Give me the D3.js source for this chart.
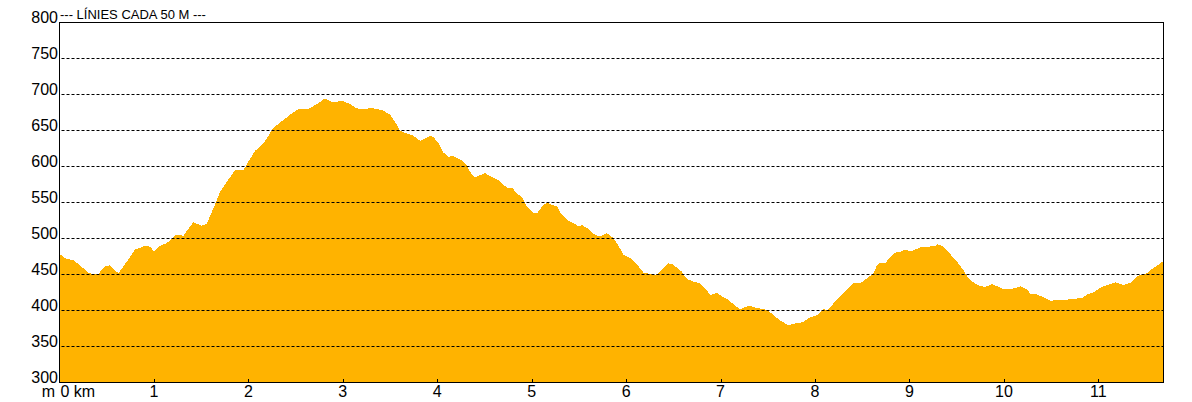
<!DOCTYPE html>
<html>
<head>
<meta charset="utf-8">
<script src="https://cdn.jsdelivr.net/npm/d3@7"></script>
<style>
  html, body { margin: 0; padding: 0; background: #fff; }
  svg { display: block; }
  text { font-family: Arial, "Liberation Sans", sans-serif; fill: #000; }
</style>
</head>
<body>
<svg width="1192" height="402"></svg>
<script>
// distance along the route (km)
var dist = [0, 0.058, 0.146, 0.217, 0.305, 0.411, 0.482, 0.535, 0.623, 0.712, 0.800, 0.906, 0.959, 1.001,
  1.064, 1.136, 1.242, 1.311, 1.417, 1.506, 1.559, 1.629, 1.700, 1.771, 1.859, 1.947, 2.018, 2.071,
  2.159, 2.265, 2.371, 2.460, 2.530, 2.636, 2.725, 2.812, 2.883, 3.006, 3.077, 3.148, 3.254, 3.289,
  3.430, 3.501, 3.572, 3.607, 3.678, 3.748, 3.819, 3.872, 3.925, 3.960, 4.013, 4.066, 4.119, 4.172,
  4.243, 4.296, 4.349, 4.392, 4.455, 4.507, 4.560, 4.648, 4.701, 4.754, 4.790, 4.843, 4.896, 4.949,
  5.019, 5.055, 5.108, 5.161, 5.214, 5.267, 5.320, 5.390, 5.443, 5.496, 5.532, 5.585, 5.655, 5.726,
  5.797, 5.867, 5.919, 5.972, 6.043, 6.114, 6.184, 6.255, 6.308, 6.379, 6.449, 6.485, 6.538, 6.591,
  6.644, 6.714, 6.785, 6.838, 6.891, 6.962, 7.015, 7.085, 7.156, 7.209, 7.297, 7.350, 7.421, 7.492,
  7.561, 7.633, 7.720, 7.773, 7.845, 7.879, 7.950, 8.021, 8.091, 8.127, 8.197, 8.268, 8.339, 8.409,
  8.480, 8.551, 8.621, 8.657, 8.692, 8.745, 8.798, 8.851, 8.904, 8.957, 9.010, 9.045, 9.116, 9.187,
  9.274, 9.292, 9.362, 9.434, 9.504, 9.574, 9.627, 9.680, 9.751, 9.804, 9.875, 9.945, 9.998, 10.069,
  10.175, 10.246, 10.281, 10.334, 10.422, 10.493, 10.564, 10.634, 10.705, 10.776, 10.829, 10.882,
  10.951, 11.022, 11.110, 11.181, 11.234, 11.269, 11.340, 11.411, 11.482, 11.517, 11.570, 11.623,
  11.676, 11.69];

// elevation (m)
var elev = [478, 472, 469, 462.5, 451, 450, 461, 462, 451, 467, 484, 489, 488, 481,
  489, 493, 505, 503, 522, 517, 520, 541, 564, 578, 594, 594, 610, 621,
  631, 653, 664, 673, 679, 679, 686, 694, 689, 690, 686, 680, 679, 681,
  677, 671, 657, 649, 645, 642, 635, 638, 642, 640, 631.5, 618.5, 613, 613.5,
  609, 604, 592, 584, 587.5, 590, 586, 580.6, 573.6, 569, 570, 562, 557, 544,
  535, 534, 543.5, 549.6, 546, 544, 532, 523.6, 520.6, 516, 518, 514, 505.5, 502,
  506.7, 499.6, 489.4, 476.4, 472, 463.5, 451.8, 450, 448, 455.6, 464.8, 464, 458.8, 453,
  443, 439.4, 437, 430, 420.8, 424, 419, 414, 405.6, 401.4, 406, 404, 402, 400,
  393, 385, 379, 381, 382, 384, 389.8, 393, 402, 399, 409.3, 418.5, 427.8, 438,
  437, 444, 451, 462.5, 465.7, 465, 474, 479.6, 481, 484, 481.5, 483, 487, 488,
  488.5, 491.7, 488, 477.3, 467, 454.6, 444, 438, 433.3, 432, 436, 432, 429, 428.5,
  433, 428.5, 422, 422.5, 417.6, 413, 413.5, 414, 415, 416, 416, 422,
  424.5, 431, 435.5, 438.6, 436, 435, 438, 447, 450, 451.3, 457, 461.5,
  466.7, 467];

var yTicks = [300, 350, 400, 450, 500, 550, 600, 650, 700, 750, 800];
var xTicks = [0, 1, 2, 3, 4, 5, 6, 7, 8, 9, 10, 11];
var title = "--- LÍNIES CADA 50 M ---";

var svg = d3.select("svg");

var x = d3.scaleLinear().domain([0, 11.69]).range([59.5, 1163.5]);
var y = d3.scaleLinear().domain([300, 800]).range([382, 22]);

var points = dist.map(function (d, i) { return { d: d, e: elev[i] }; });

// profile fill
var area = d3.area()
    .x(function (p) { return x(p.d); })
    .y0(y(300))
    .y1(function (p) { return y(p.e); });

svg.append("path")
    .datum(points)
    .attr("d", area)
    .attr("fill", "#ffb300")
    .attr("shape-rendering", "crispEdges");

// dashed grid lines every 50 m
svg.append("g")
    .selectAll("line")
    .data(yTicks.filter(function (v) { return v > 300 && v < 800; }))
    .enter().append("line")
    .attr("x1", x(0) + 2)
    .attr("x2", x(11.69))
    .attr("y1", function (v) { return Math.round(y(v)) + 0.5; })
    .attr("y2", function (v) { return Math.round(y(v)) + 0.5; })
    .attr("stroke", "#000")
    .attr("stroke-width", 1)
    .attr("stroke-dasharray", "3,2");

// frame
svg.append("rect")
    .attr("x", 59.5)
    .attr("y", 22.5)
    .attr("width", 1104)
    .attr("height", 360)
    .attr("fill", "none")
    .attr("stroke", "#000")
    .attr("stroke-width", 1);

// y labels, baseline on the grid line
svg.append("g")
    .selectAll("text")
    .data(yTicks)
    .enter().append("text")
    .attr("x", 58)
    .attr("y", function (v) { return y(v) + 0.5; })
    .attr("text-anchor", "end")
    .attr("font-size", 16)
    .text(function (v) { return v; });

// x ticks (small marks inside the frame)
svg.append("g")
    .selectAll("line")
    .data(xTicks.slice(1))
    .enter().append("line")
    .attr("x1", function (k) { return Math.round(x(k)) + 0.5; })
    .attr("x2", function (k) { return Math.round(x(k)) + 0.5; })
    .attr("y1", 379)
    .attr("y2", 382)
    .attr("stroke", "#000");

// x labels
svg.append("g")
    .selectAll("text")
    .data(xTicks)
    .enter().append("text")
    .attr("x", function (k) { return k === 0 ? x(0) + 1 : x(k); })
    .attr("y", 397)
    .attr("text-anchor", function (k) { return k === 0 ? "start" : "middle"; })
    .attr("font-size", 16)
    .text(function (k) { return k === 0 ? "0 km" : k; });

svg.append("text")
    .attr("x", 55)
    .attr("y", 397)
    .attr("text-anchor", "end")
    .attr("font-size", 16)
    .text("m");

// title
svg.append("text")
    .attr("x", 60)
    .attr("y", 19)
    .attr("font-size", 13)
    .text(title);
</script>
</body>
</html>
